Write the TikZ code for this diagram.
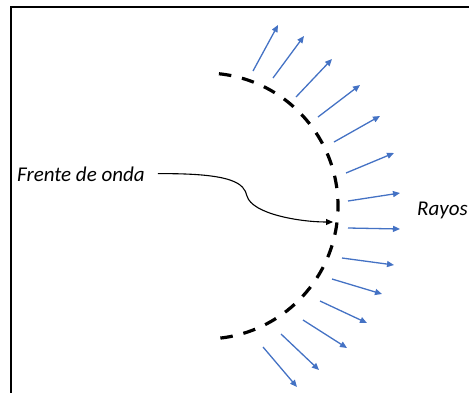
\documentclass[tikz,border=0pt]{standalone}
\usepackage{fontspec}
\setmainfont{Carlito}
\usetikzlibrary{arrows.meta}
\definecolor{raycol}{HTML}{4472C4}
\tikzset{
  frameline/.style={line width=2.6pt, line cap=rect},
  wavefront/.style={line width=3.2pt, dash pattern=on 12.5pt off 11pt},
  ray/.style={raycol, line width=1.3pt, -{Triangle[length=7pt,width=6pt]}},
  pointer/.style={line width=1.1pt, -{Triangle[length=7pt,width=6pt]}},
  lbl/.style={inner sep=0pt, font=\fontsize{21}{25}\selectfont\itshape}
}
\begin{document}
\begin{tikzpicture}[x=1pt,y=-1pt]
  \useasboundingbox (0,0) rectangle (469,392);
  % open frame (top and left sides)
  \draw[frameline] (11,400) -- (11,7) -- (480,7);
  % wave front: circular arc, centre (205,206), radius 133
  \draw[wavefront] (205,206) ++(-84:133) arc[start angle=-84, end angle=84, radius=133];
  % rays leaving the wave front
  \foreach \sx/\sy/\ex/\ey [count=\i] in {
      253/71/278/25, 273/78/304/36, 296/97/332/59, 318/117/360/85,
      334/142/380/116, 346/173/394/153, 348/201/400/193, 348/228/400/229,
      342/258/394/265, 332/279/382/294, 320/301/367/323, 303/320/347/348,
      281/334/319/370, 263/347/297/387} {
    \coordinate (rs\i) at (\sx,\sy);
    \coordinate (re\i) at (\ex,\ey);
    \draw[ray] (rs\i) -- (re\i);
  }
  % labels
  \node[lbl, anchor=base west] (frente) at (17,181) {Frente de onda};
  \node[lbl, anchor=base west] (rayos) at (417,215) {Rayos};
  \coordinate (wf) at (333,222);
  \draw[pointer, shorten <=13pt] (frente.east) .. controls (235,173) and (244,184) .. (247,196)
        .. controls (252,214) and (300,222) .. (wf);
\end{tikzpicture}
\end{document}
